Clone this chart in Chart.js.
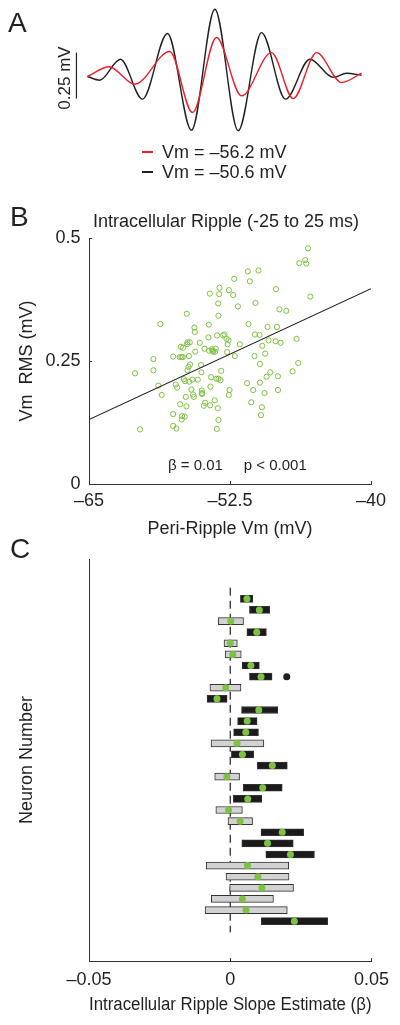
<!DOCTYPE html>
<html>
<head>
<meta charset="utf-8">
<script src="https://cdn.jsdelivr.net/npm/chart.js@4"></script>
<style>
  body { margin: 0; background: #fff; }
  #wrap { position: relative; width: 400px; height: 1025px; overflow: hidden; font-family: "Liberation Sans", Arial, sans-serif; color: #231f20; }
  canvas { position: absolute; left: 0; }
  .t { position: absolute; line-height: 1; white-space: pre; }
  .rot { transform: translate(-50%, -50%) rotate(-90deg); }
  .swatch { position: absolute; height: 1.5px; width: 11px; }
</style>
</head>
<body>
<div id="wrap">
  <canvas id="chartA" width="400" height="200" style="top:0"></canvas>
  <canvas id="chartB" width="400" height="340" style="top:200px"></canvas>
  <canvas id="chartC" width="400" height="485" style="top:540px"></canvas>

  <div class="t" style="left:8px;top:9px;font-size:28px">A</div>
  <div class="t rot" style="left:64px;top:78px;font-size:17px">0.25 mV</div>
  <div class="swatch" style="left:142px;top:151px;background:#e8212b"></div>
  <div class="t" style="left:162px;top:143px;font-size:18px">Vm = –56.2 mV</div>
  <div class="swatch" style="left:142px;top:171px;background:#231f20"></div>
  <div class="t" style="left:162px;top:162.5px;font-size:18px">Vm = –50.6 mV</div>

  <div class="t" style="left:10px;top:203px;font-size:28px">B</div>
  <div class="t" style="left:226px;top:212px;font-size:18px;transform:translateX(-50%)">Intracellular Ripple (-25 to 25 ms)</div>
  <div class="t" style="left:168px;top:457px;font-size:15px">β = 0.01     p &lt; 0.001</div>

  <div class="t" style="left:10px;top:535px;font-size:28px">C</div>
</div>
<script>
// ---- panel A: example ripple traces (ms, mV relative to baseline)
const blackT = [-25, -22.75, -18.98, -14.96, -10.40, -6.02, -1.76, 2.50, 6.75, 11.13, 15.57, 19.83, 22.26, 25];
const blackV = [0, -0.020, 0.094, -0.123, 0.234, -0.292, 0.366, -0.295, 0.239, -0.123, 0.094, -0.005, 0.018, 0.007];
const redT = [-25, -21.05, -16.36, -9.98, -5.84, -1.46, 3.10, 8.58, 12.53, 16.79, 21.35, 25];
const redV = [0, 0.053, -0.042, 0.136, -0.196, 0.212, -0.105, 0.130, -0.120, 0.130, -0.033, 0.018];
const scaleBarT = [-27, -27];
const scaleBarV = [-0.12, 0.13];

// ---- panel B: ripple RMS vs peri-ripple Vm
const periVm = [
  -60.92, -60.47, -59.29, -59.29, -58.85, -58.55, -58.67, -57.54, -57.54, -57.54,
  -57.31, -57.25, -57.19, -56.95, -56.92, -56.86, -56.80, -56.78, -56.75, -56.69,
  -56.66, -56.60, -56.51, -56.48, -56.42, -56.36, -56.33, -56.30, -56.27, -56.27,
  -56.18, -56.15, -56.12, -56.07, -56.04, -55.92, -55.83, -55.77, -55.71, -55.65,
  -55.62, -55.59, -55.36, -55.18, -55.06, -55.03, -55.00, -55.00, -54.97, -54.82,
  -54.76, -54.70, -54.41, -54.38, -54.35, -54.29, -54.26, -54.23, -54.17, -54.11,
  -54.05, -53.99, -53.85, -53.82, -53.76, -53.70, -53.67, -53.64, -53.58, -53.55,
  -53.52, -53.52, -53.52, -53.46, -53.43, -53.34, -53.28, -53.11, -52.99, -52.81,
  -52.75, -52.72, -52.63, -52.60, -52.60, -52.54, -52.22, -52.13, -52.07, -51.80,
  -51.63, -50.98, -50.92, -50.86, -50.74, -50.62, -50.44, -50.33, -50.30, -50.24,
  -49.97, -49.88, -49.85, -49.85, -49.76, -49.67, -49.64, -49.44, -49.38, -49.26,
  -49.17, -49.08, -48.93, -48.46, -48.43, -48.34, -48.25, -48.25, -48.11, -48.02,
  -47.51, -46.95, -46.60, -46.45, -46.36, -45.83, -45.74, -45.59, -45.38
];
const rmsVm = [
  0.225, 0.111, 0.254, 0.231, 0.200, 0.181, 0.325, 0.142, 0.118, 0.259,
  0.202, 0.113, 0.196, 0.258, 0.162, 0.279, 0.258, 0.131, 0.138, 0.258,
  0.277, 0.213, 0.137, 0.209, 0.177, 0.158, 0.346, 0.284, 0.288, 0.231,
  0.238, 0.260, 0.208, 0.288, 0.243, 0.192, 0.212, 0.182, 0.177, 0.318,
  0.309, 0.269, 0.212, 0.287, 0.242, 0.227, 0.190, 0.185, 0.183, 0.159,
  0.275, 0.165, 0.298, 0.324, 0.271, 0.387, 0.160, 0.198, 0.217, 0.274,
  0.271, 0.269, 0.170, 0.269, 0.275, 0.214, 0.112, 0.302, 0.154, 0.367,
  0.214, 0.130, 0.342, 0.386, 0.399, 0.211, 0.230, 0.302, 0.304, 0.295,
  0.268, 0.284, 0.292, 0.394, 0.181, 0.191, 0.384, 0.417, 0.260, 0.361,
  0.284, 0.205, 0.432, 0.325, 0.412, 0.166, 0.191, 0.260, 0.304, 0.368,
  0.434, 0.303, 0.206, 0.244, 0.140, 0.156, 0.281, 0.185, 0.265, 0.218,
  0.319, 0.292, 0.227, 0.290, 0.396, 0.319, 0.219, 0.191, 0.355, 0.287,
  0.352, 0.229, 0.295, 0.246, 0.449, 0.455, 0.448, 0.479, 0.381
];
const fitX = [-65, -40];
const fitY = [0.131, 0.397];
const bTicksX = [-65, -52.5, -40];
const bTicksY = [0, 0.25, 0.5];

// ---- panel C: slope estimate per neuron with confidence interval
const neuron = [1, 2, 3, 4, 5, 6, 7, 8, 9, 10, 11, 12, 13, 14, 15, 16, 17, 18, 19, 20, 21, 22, 23, 24, 25, 26, 27, 28, 29, 30];
const ciLow = [0.0036, 0.0068, -0.0042, 0.0059, -0.0022, -0.0018, 0.0042, 0.0068, -0.0072, -0.0082,
  0.0040, 0.0026, 0.0012, -0.0068, 0.0004, 0.0096, -0.0055, 0.0046, 0.0011, -0.0051,
  -0.0008, 0.0109, 0.0041, 0.0126, -0.0085, -0.0015, -0.0002, -0.0067, -0.0089, 0.0110];
const ciHigh = [0.0080, 0.0140, 0.0047, 0.0128, 0.0025, 0.0039, 0.0103, 0.0148, 0.0038, -0.0011,
  0.0168, 0.0095, 0.0100, 0.0119, 0.0083, 0.0202, 0.0033, 0.0184, 0.0112, 0.0043,
  0.0079, 0.0260, 0.0223, 0.0298, 0.0207, 0.0208, 0.0224, 0.0153, 0.0202, 0.0345];
const slope = [0.0059, 0.0103, 0.0002, 0.0094, 0.0000, 0.0009, 0.0073, 0.0109, -0.0016, -0.0047,
  0.0101, 0.0060, 0.0055, 0.0024, 0.0043, 0.0149, -0.0012, 0.0115, 0.0062, -0.0006,
  0.0035, 0.0184, 0.0132, 0.0213, 0.0061, 0.0098, 0.0112, 0.0043, 0.0056, 0.0227];
const significant = [1, 1, 0, 1, 0, 0, 1, 1, 0, 1, 1, 1, 1, 0, 1, 1, 0, 1, 1, 0, 0, 1, 1, 1, 0, 0, 0, 0, 0, 1];
const outlierRow = [8];
const outlierSlope = [0.0200];
const cTicksX = [-0.05, 0, 0.05];

const ink = '#231f20';
const axisInk = '#333';
const green = '#7dc242';
const dash = v => (v < 0 ? '–' + Math.abs(v) : String(v));
const zip = (xs, ys) => xs.map((x, i) => ({ x, y: ys[i] }));

Chart.defaults.font.family = '"Liberation Sans", Arial, sans-serif';
Chart.defaults.font.size = 18;
Chart.defaults.color = ink;
Chart.defaults.animation = false;
Chart.defaults.plugins.legend.display = false;
Chart.defaults.plugins.tooltip.enabled = false;

// A
new Chart(document.getElementById('chartA'), {
  type: 'line',
  data: {
    datasets: [
      { data: zip(redT, redV), borderColor: '#e8212b', borderWidth: 1.4, pointRadius: 0, cubicInterpolationMode: 'monotone' },
      { data: zip(blackT, blackV), borderColor: ink, borderWidth: 1.4, pointRadius: 0, cubicInterpolationMode: 'monotone' },
      { data: zip(scaleBarT, scaleBarV), borderColor: ink, borderWidth: 1.2, pointRadius: 0 }
    ]
  },
  options: {
    responsive: false,
    layout: { padding: { left: 60, right: 11, top: 3, bottom: 50 } },
    scales: {
      x: { type: 'linear', min: -30, max: 30, display: false },
      y: { min: -0.4, max: 0.4, display: false }
    }
  }
});

// B
new Chart(document.getElementById('chartB'), {
  type: 'scatter',
  data: {
    datasets: [
      { data: zip(fitX, fitY), type: 'line', borderColor: ink, borderWidth: 1.2, pointRadius: 0, order: 1 },
      { data: zip(periVm, rmsVm), borderColor: green, backgroundColor: 'rgba(0,0,0,0)', borderWidth: 1, pointRadius: 2.6, order: 2 }
    ]
  },
  options: {
    responsive: false,
    layout: { padding: { left: 0, right: 29, top: 38, bottom: 0 } },
    scales: {
      x: {
        min: -65, max: -40,
        afterBuildTicks: s => { s.ticks = bTicksX.map(v => ({ value: v })); },
        afterFit: s => { s.height = 56; },
        ticks: { callback: v => dash(v), padding: 9, maxRotation: 0 },
        grid: { drawOnChartArea: false, tickLength: -3, color: axisInk },
        border: { color: axisInk, width: 1 },
        title: { display: true, text: 'Peri-Ripple Vm (mV)', padding: 0 }
      },
      y: {
        min: 0, max: 0.5,
        afterBuildTicks: s => { s.ticks = bTicksY.map(v => ({ value: v })); },
        afterFit: s => { s.width = 89; },
        ticks: { callback: v => String(v), padding: 11.5 },
        grid: { drawOnChartArea: false, tickLength: -3, color: axisInk },
        border: { color: axisInk, width: 1 },
        title: { display: true, text: 'Vm  RMS (mV)', padding: { top: 16, bottom: 0 } }
      }
    }
  }
});

// C
new Chart(document.getElementById('chartC'), {
  type: 'bar',
  data: {
    datasets: [
      { type: 'line', data: zip([0, 0], [0, 31]), borderColor: ink, borderWidth: 1.2, borderDash: [8, 5], pointRadius: 0, order: 4 },
      {
        data: neuron.map((n, i) => ({ x: [ciLow[i], ciHigh[i]], y: n })),
        backgroundColor: significant.map(s => (s ? '#1c1a1b' : '#d2d2d2')),
        borderColor: '#333',
        borderWidth: 1,
        borderSkipped: false,
        barThickness: 7,
        order: 3
      },
      { type: 'scatter', data: zip(outlierSlope, outlierRow), backgroundColor: ink, borderWidth: 0, pointRadius: 3.5, order: 2 },
      { type: 'scatter', data: zip(slope, neuron), backgroundColor: green, borderWidth: 0, pointRadius: 3.5, order: 1 }
    ]
  },
  options: {
    responsive: false,
    indexAxis: 'y',
    layout: { padding: { left: 0, right: 28, top: 19, bottom: 0 } },
    scales: {
      x: {
        type: 'linear', min: -0.05, max: 0.05,
        afterBuildTicks: s => { s.ticks = cTicksX.map(v => ({ value: v })); },
        afterFit: s => { s.height = 64; },
        ticks: { callback: v => dash(v), padding: 11, maxRotation: 0 },
        grid: { drawOnChartArea: false, tickLength: -3, color: axisInk },
        border: { color: axisInk, width: 1 },
        title: { display: true, text: 'Intracellular Ripple Slope Estimate (β)', padding: { top: 0, bottom: 9 } }
      },
      y: {
        type: 'linear', min: 0, max: 31, reverse: true,
        afterFit: s => { s.width = 89; },
        ticks: { display: false },
        grid: { display: false },
        border: { color: axisInk, width: 1 },
        title: { display: true, text: 'Neuron Number', padding: { top: 16, bottom: 0 } }
      }
    }
  }
});
</script>
</body>
</html>
